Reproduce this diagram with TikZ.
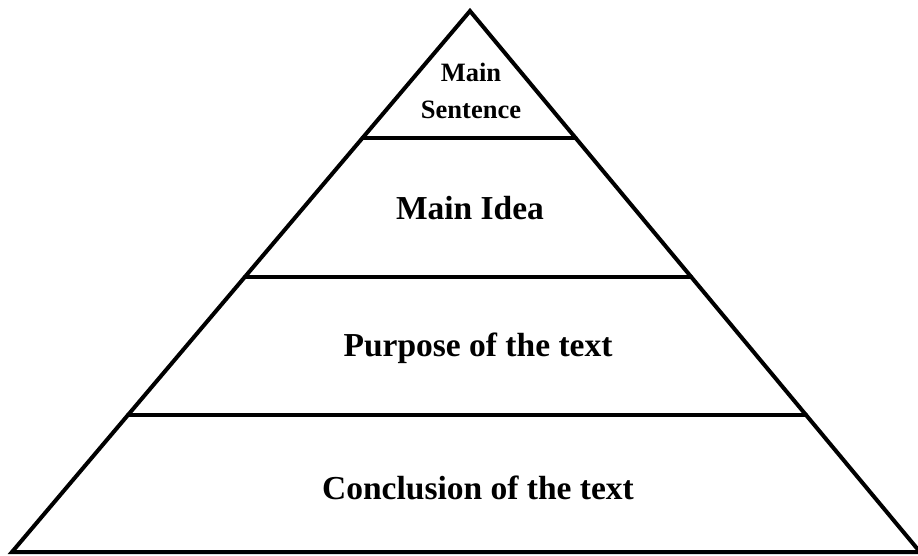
\documentclass[tikz,border=0pt]{standalone}
\usepackage{fontspec}
\setmainfont{Liberation Serif}
\usetikzlibrary{calc}
\tikzset{
  edge/.style={line width=4pt,line join=miter,line cap=round},
  level/.style={font=\bfseries\fontsize{33.5}{36}\selectfont,align=center},
  top level/.style={font=\bfseries\fontsize{26.5}{37}\selectfont,align=center},
}

\begin{document}
\begin{tikzpicture}[x=1pt,y=-1pt]
  \useasboundingbox (0,0) rectangle (918,556);
  % corners of the pyramid
  \coordinate (apex) at (470,11);
  \coordinate (bl) at (12,552);
  \coordinate (br) at (920,552);
  % cut lines
  \foreach \t/\n in {0.2348/a,0.4917/b,0.7468/c}{
    \coordinate (l\n) at ($(apex)!\t!(bl)$);
    \coordinate (r\n) at ($(apex)!\t!(br)$);
  }
  \draw[edge] (bl) -- (apex) -- (br) -- cycle;
  \draw[edge] (la) -- (ra);
  \draw[edge] (lb) -- (rb);
  \draw[edge] (lc) -- (rc);
  % labels
  \node[top level] (sentence) at (471,91) {Main\\Sentence};
  \node[level] (idea) at (470,208) {Main Idea};
  \node[level] (purpose) at (478,348) {Purpose of the text};
  \node[level] (conclusion) at (478,488) {Conclusion of the text};
\end{tikzpicture}
\end{document}
